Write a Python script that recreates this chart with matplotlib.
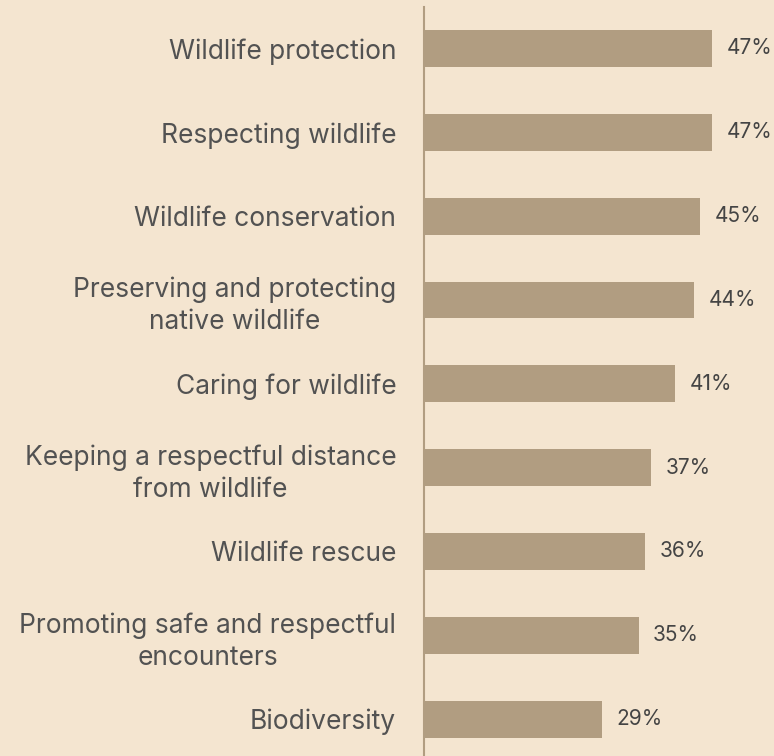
import matplotlib
matplotlib.use("Agg")
import matplotlib.pyplot as plt

# data, top to bottom
categories = [
    "Wildlife protection",
    "Respecting wildlife",
    "Wildlife conservation",
    "Preserving and protecting\nnative wildlife",
    "Caring for wildlife",
    "Keeping a respectful distance\nfrom wildlife",
    "Wildlife rescue",
    "Promoting safe and respectful\nencounters",
    "Biodiversity",
]
values = [47, 47, 45, 44, 41, 37, 36, 35, 29]

BG = "#F4E5D0"
BAR = "#B19D81"

plt.rcParams['font.family'] = ['Inter', 'DejaVu Sans']

fig = plt.figure(figsize=(7.74, 7.56), dpi=100)
fig.patch.set_facecolor(BG)
ax = fig.add_axes([424 / 774, 0, 350 / 774, 749 / 756])
ax.set_facecolor(BG)

y = list(range(len(categories)))
ax.barh(y, values, height=0.44, color=BAR)

for yi, v in zip(y, values):
    ax.annotate(f"{v}%", xy=(v, yi), xytext=(10.5, 0), textcoords="offset points",
                va="center", ha="left", fontsize=15, color="#444444")

ax.set_xlim(0, 350 / 6.13)
ax.set_ylim(8.44, -0.495)
ax.set_yticks(y)
ax.set_yticklabels(categories, fontsize=19, color="#525252", ha="right",
                   multialignment="center", linespacing=1.3)
ax.tick_params(axis="y", length=0, pad=20)
ax.set_xticks([])
for s in ["top", "right", "bottom"]:
    ax.spines[s].set_visible(False)
ax.spines["left"].set_color(BAR)
ax.spines["left"].set_linewidth(1.5)

fig.savefig("out.png", dpi=100, facecolor=BG)
